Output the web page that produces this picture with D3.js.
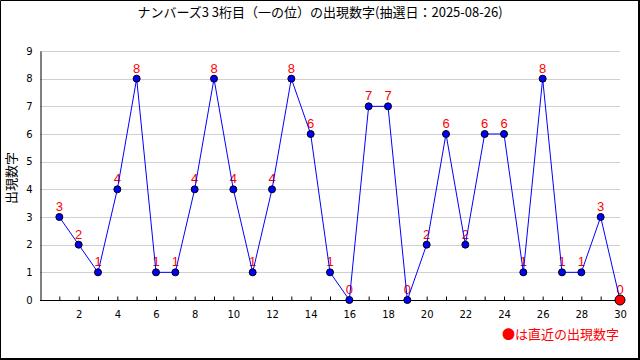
<!DOCTYPE html>
<html><head><meta charset="utf-8">
<script src="https://cdn.jsdelivr.net/npm/d3@7"></script>
<style>
body{margin:0;background:#fff;}
svg{display:block;}
</style></head>
<body><svg id="c" width="640" height="360"></svg>
<script>
const title = "ナンバーズ3 3桁目（一の位）の出現数字(抽選日：2025-08-26)";
const yTitle = "出現数字";
const legendText = "●は直近の出現数字";
const draws = d3.range(1, 31);
const values = [3,2,1,4,8,1,1,4,8,4,1,4,8,6,1,0,7,7,0,2,6,2,6,6,1,8,1,1,3,0];
const yTicks = [0,1,2,3,4,5,6,7,8,9];
const xTickLabels = [2,4,6,8,10,12,14,16,18,20,22,24,26,28,30];

const svg = d3.select("#c");
const jp = "'Noto Sans CJK JP', sans-serif";
const num = "'DejaVu Sans', sans-serif";

const x = d3.scaleLinear().domain([0, 30]).range([40, 620]);
const y = d3.scaleLinear().domain([0, 9]).range([300, 51]);

svg.append("rect").attr("x",0).attr("y",0).attr("width",640).attr("height",360).attr("fill","#fff");

// frame
svg.append("path").attr("d","M0.5,360 V0.5 H639").attr("stroke","#000").attr("fill","none");
svg.append("path").attr("d","M639,0 V359 H0").attr("stroke","#000").attr("stroke-width",2).attr("fill","none");

// title
svg.append("text").attr("x",320).attr("y",17).attr("text-anchor","middle")
  .attr("font-family",jp).attr("font-size",13).attr("fill","#000").text(title);

// grid
svg.append("g").selectAll("line").data(yTicks.filter(d=>d>0)).join("line")
  .attr("x1",x(0)).attr("x2",x(30)).attr("y1",d=>Math.round(y(d))+0.5).attr("y2",d=>Math.round(y(d))+0.5)
  .attr("stroke","#d0d0d0");

// y axis
const ya = svg.append("g").attr("transform",`translate(${x(0)+0.5},0)`)
  .call(d3.axisLeft(y).tickValues(yTicks).tickSize(0).tickPadding(8).tickFormat(d3.format("d")));
ya.select(".domain").attr("stroke","#000");
ya.selectAll("text").attr("font-family",num).attr("font-size",10).attr("fill","#000");

// x axis
const xa = svg.append("g").attr("transform",`translate(0,${y(0)+0.5})`)
  .call(d3.axisBottom(x).tickValues(draws).tickSize(-4).tickPadding(10)
    .tickFormat(d => xTickLabels.includes(d) ? d : ""));
xa.select(".domain").attr("stroke","#000").attr("d",`M${x(0)},0H${x(30)}`);
xa.selectAll("line").attr("stroke","#000");
xa.selectAll("text").attr("font-family",num).attr("font-size",10).attr("fill","#000");

// y title
svg.append("text").attr("transform",`translate(16,178) rotate(-90)`).attr("text-anchor","middle")
  .attr("font-family",jp).attr("font-size",13).attr("fill","#000").text(yTitle);

const data = draws.map((d,i)=>({d, v: values[i]}));

// value labels (under line)
svg.append("g").selectAll("text").data(data).join("text")
  .attr("x",p=>x(p.d)).attr("y",p=>y(p.v)-6).attr("text-anchor","middle")
  .attr("font-family","'Liberation Sans', sans-serif").attr("font-size",13).attr("fill","#ff0000")
  .text(p=>p.v);

// line
svg.append("path").datum(data)
  .attr("d", d3.line().x(p=>x(p.d)).y(p=>y(p.v)))
  .attr("fill","none").attr("stroke","#0000ff").attr("stroke-width",1);

// points
svg.append("g").selectAll("circle").data(data).join("circle")
  .attr("cx",p=>x(p.d)).attr("cy",p=>y(p.v))
  .attr("r",(p,i)=> i===data.length-1 ? 5 : 3.5)
  .attr("fill",(p,i)=> i===data.length-1 ? "#ff0000" : "#0000ff")
  .attr("stroke","#000").attr("stroke-width",1);

// legend
svg.append("text").attr("x",619).attr("y",339).attr("text-anchor","end")
  .attr("font-family",jp).attr("font-size",13).attr("fill","#ff0000").text(legendText);
</script></body></html>
